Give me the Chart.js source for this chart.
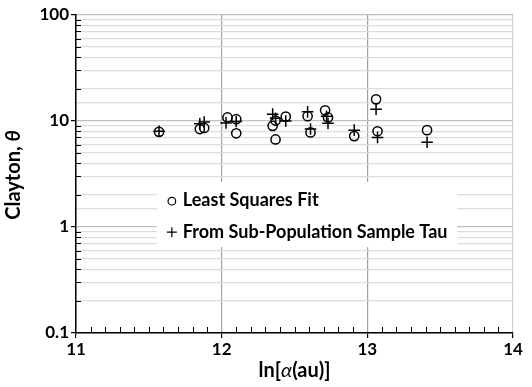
<!DOCTYPE html>
<html>
<head>
<meta charset="utf-8">
<script src="https://cdn.jsdelivr.net/npm/chart.js@4.4.0/dist/chart.umd.min.js"></script>
<style>
  html, body { margin: 0; padding: 0; background: #fff; }
  #wrap { width: 532px; height: 387px; }
</style>
</head>
<body>
<div id="wrap"><canvas id="claytonChart"></canvas></div>
<script>
// 數據 - 從圖片讀取
const lsqX = [11.57, 11.85, 11.88, 12.04, 12.10, 12.10, 12.35, 12.37, 12.37, 12.44, 12.59, 12.61, 12.71, 12.73, 12.91, 13.06, 13.07, 13.41];
const lsqY = [7.9, 8.4, 8.6, 10.8, 10.4, 7.65, 9.0, 10.1, 6.7, 11.0, 11.1, 7.8, 12.6, 10.8, 7.2, 16.0, 8.0, 8.2];
const tauX = [11.57, 11.85, 11.88, 12.03, 12.10, 12.35, 12.37, 12.44, 12.59, 12.61, 12.72, 12.73, 12.91, 13.06, 13.07, 13.41];
const tauY = [8.0, 9.4, 9.8, 9.6, 9.9, 11.6, 10.6, 10.0, 12.2, 8.4, 11.1, 9.5, 8.2, 12.9, 7.0, 6.3];
const xTicks = [11, 12, 13, 14];
const yTicks = [0.1, 1, 10, 100];
const legendLabels = ['Least Squares Fit', 'From Sub-Population Sample Tau'];

const FONT = 'Lato, "Open Sans", sans-serif';

function toPoints(xs, ys) {
    return xs.map((x, i) => ({ x: x, y: ys[i] }));
}

// 次刻度、標題與圖例
const decorPlugin = {
    id: 'decor',
    beforeDatasetsDraw(chart) {
        const ctx = chart.ctx;
        const a = chart.chartArea;
        const xs = chart.scales.x, ys = chart.scales.y;
        ctx.save();
        ctx.strokeStyle = '#000';
        ctx.lineWidth = 1;
        // y 次刻度
        for (let d = 0.1; d < 100; d *= 10) {
            for (let k = 2; k <= 9; k++) {
                const py = Math.round(ys.getPixelForValue(k * d)) + 0.5;
                ctx.beginPath();
                ctx.moveTo(a.left, py);
                ctx.lineTo(a.left + 5, py);
                ctx.stroke();
            }
        }
        // x 次刻度
        for (let i = 111; i < 140; i++) {
            if (i % 10 === 0) continue;
            const px = Math.round(xs.getPixelForValue(i / 10)) + 0.5;
            ctx.beginPath();
            ctx.moveTo(px, a.bottom - 6);
            ctx.lineTo(px, a.bottom);
            ctx.stroke();
        }
        ctx.restore();
    },
    afterDraw(chart) {
        const ctx = chart.ctx;
        const a = chart.chartArea;
        const w = a.right - a.left, h = a.bottom - a.top;
        ctx.save();
        ctx.fillStyle = '#000';
        ctx.textBaseline = 'middle';

        // 圖例
        const lx = a.left + w * 0.185, rx = a.left + w * 0.872;
        const ty = a.top + h * 0.525, by = a.top + h * 0.73;
        ctx.fillStyle = '#fff';
        ctx.fillRect(lx, ty, rx - lx, by - ty);
        ctx.fillStyle = '#000';
        ctx.strokeStyle = '#000';
        ctx.lineWidth = 1.2;
        const row1 = ty + (by - ty) * 0.28, row2 = ty + (by - ty) * 0.77;
        const mx = lx + 15;
        ctx.beginPath();
        ctx.arc(mx, row1 + 1, 3.8, 0, Math.PI * 2);
        ctx.stroke();
        ctx.beginPath();
        ctx.moveTo(mx - 5, row2); ctx.lineTo(mx + 5, row2);
        ctx.moveTo(mx, row2 - 5); ctx.lineTo(mx, row2 + 5);
        ctx.stroke();
        ctx.font = 'bold 18px ' + FONT;
        ctx.textAlign = 'left';
        ctx.fillText(legendLabels[0], mx + 11, row1);
        ctx.fillText(legendLabels[1], mx + 11, row2);

        // x 軸標題 ln[α(au)]
        const parts = [['ln[', 'bold 20px '], ['\u03B1', 'italic 20px '], ['(au)]', 'bold 20px ']];
        let total = 0;
        parts.forEach(p => { ctx.font = p[1] + FONT; total += ctx.measureText(p[0]).width; });
        let cx = (a.left + a.right) / 2 - total / 2;
        const ty2 = chart.height - 16;
        parts.forEach(p => {
            ctx.font = p[1] + FONT;
            ctx.fillText(p[0], cx, ty2);
            cx += ctx.measureText(p[0]).width;
        });

        // y 軸標題 Clayton, θ
        ctx.translate(14, (a.top + a.bottom) / 2 + 1);
        ctx.rotate(-Math.PI / 2);
        const yparts = [['Clayton, ', 'bold 20px '], ['\u03B8', 'bold italic 20px ']];
        total = 0;
        yparts.forEach(p => { ctx.font = p[1] + FONT; total += ctx.measureText(p[0]).width; });
        cx = -total / 2;
        yparts.forEach(p => {
            ctx.font = p[1] + FONT;
            ctx.fillText(p[0], cx, 0);
            cx += ctx.measureText(p[0]).width;
        });
        ctx.restore();
    }
};

document.addEventListener('DOMContentLoaded', function() {
    Chart.defaults.font.family = FONT;
    Chart.defaults.color = '#000';

    new Chart(document.getElementById('claytonChart'), {
        type: 'scatter',
        data: {
            datasets: [{
                label: legendLabels[0],
                data: toPoints(lsqX, lsqY),
                pointStyle: 'circle',
                radius: 4.6,
                borderColor: '#000',
                backgroundColor: 'rgba(0,0,0,0)',
                borderWidth: 1.5
            }, {
                label: legendLabels[1],
                data: toPoints(tauX, tauY),
                pointStyle: 'cross',
                radius: 5.8,
                borderColor: '#000',
                borderWidth: 1.5
            }]
        },
        options: {
            responsive: true,
            maintainAspectRatio: false,
            animation: false,
            layout: { padding: { left: 22, top: 15, right: 19, bottom: 0 } },
            plugins: {
                legend: { display: false },
                tooltip: { enabled: false }
            },
            scales: {
                x: {
                    type: 'linear',
                    min: 11,
                    max: 14,
                    afterBuildTicks: s => { s.ticks = xTicks.map(v => ({ value: v })); },
                    afterFit: s => { s.height = 54; },
                    border: { color: '#000', width: 1.5 },
                    grid: {
                        color: c => (c.tick && (c.tick.value === 12 || c.tick.value === 13)) ? '#a0a0a0' : '#d0d0d0',
                        lineWidth: 1.2,
                        tickColor: '#000',
                        tickLength: 5
                    },
                    ticks: {
                        font: { size: 17, weight: 'bold' },
                        padding: 1
                    }
                },
                y: {
                    type: 'logarithmic',
                    min: 0.1,
                    max: 100,
                    afterFit: s => { s.width = 54; },
                    border: { color: '#000', width: 1.5 },
                    grid: {
                        color: c => {
                            const v = c.tick ? c.tick.value : 0;
                            return yTicks.indexOf(v) >= 0 ? '#c0c0c0' : '#dcdcdc';
                        },
                        lineWidth: 1.2,
                        tickColor: c => (c.tick && yTicks.indexOf(c.tick.value) >= 0) ? '#000' : 'rgba(0,0,0,0)',
                        tickLength: 5
                    },
                    ticks: {
                        font: { size: 17, weight: 'bold' },
                        padding: 2,
                        autoSkip: false,
                        callback: v => yTicks.indexOf(v) >= 0 ? String(v) : ''
                    }
                }
            }
        },
        plugins: [decorPlugin]
    });
});
</script>
</body>
</html>
